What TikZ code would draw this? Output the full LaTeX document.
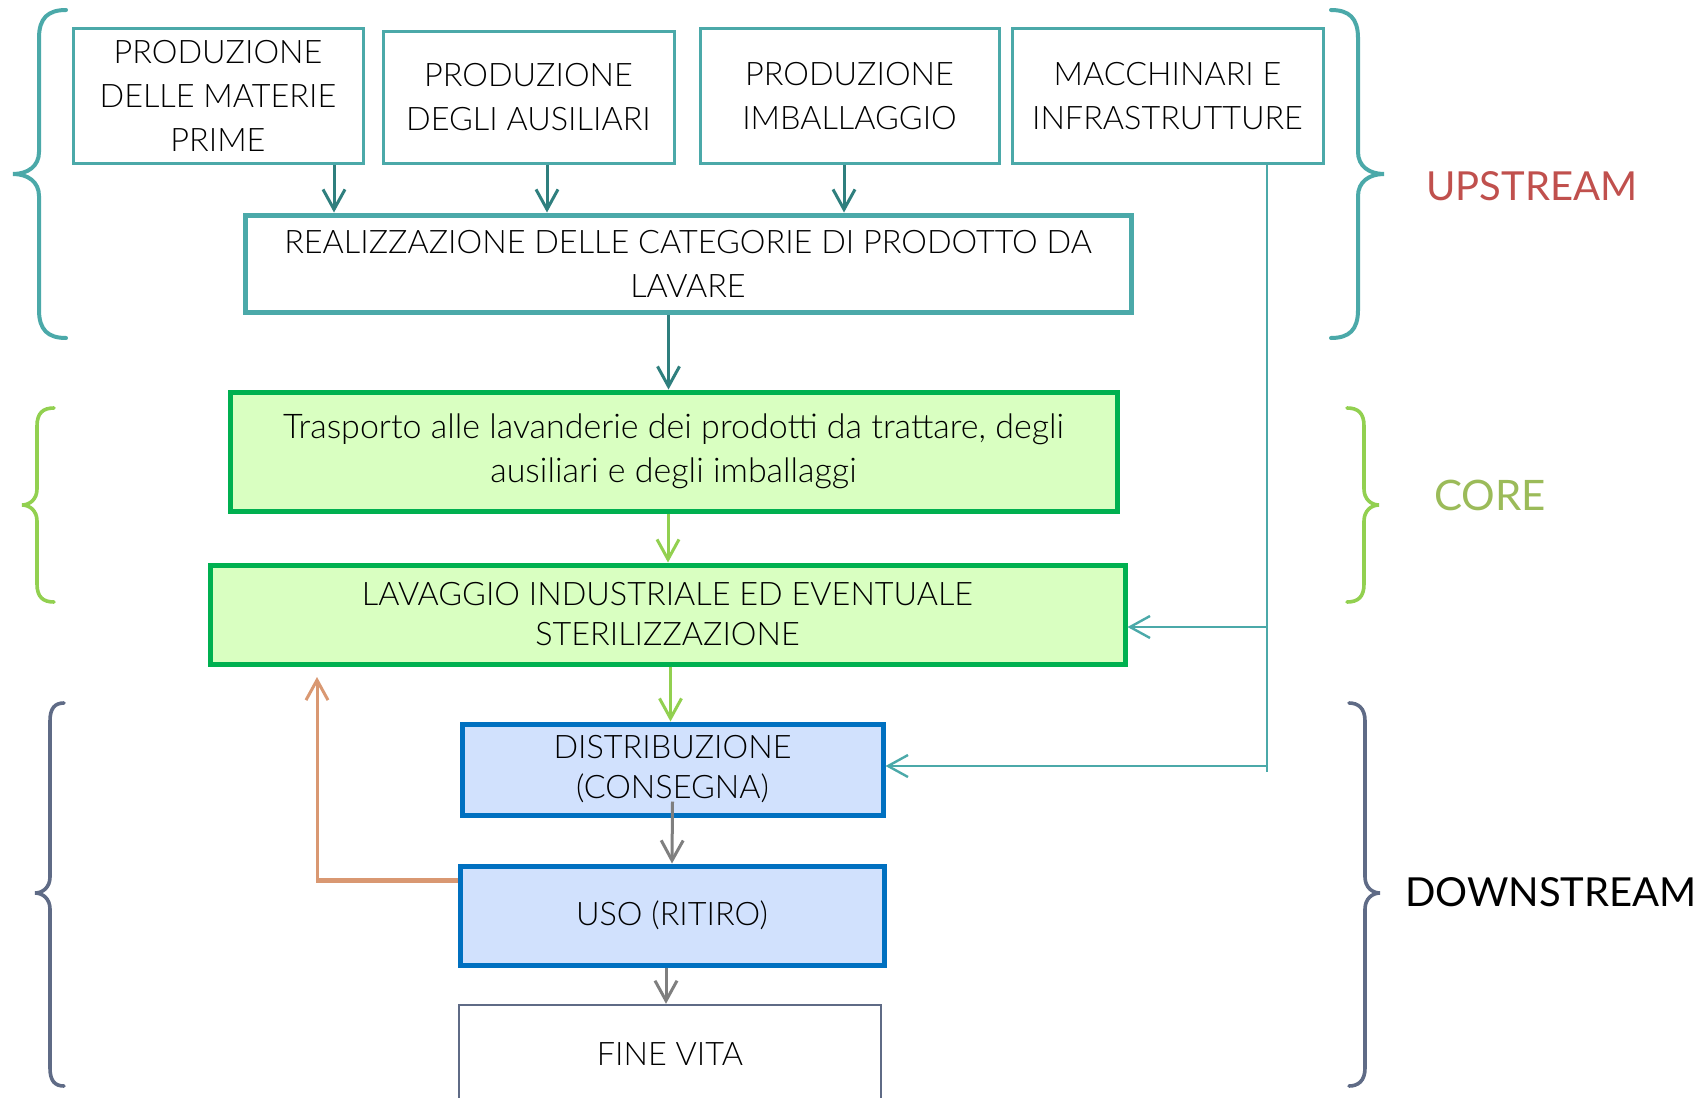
\documentclass[tikz,border=0pt]{standalone}
\usepackage{fontspec}
\IfFontExistsTF{Lato Light}{\setmainfont{Lato Light}}{\setmainfont{Lato}}
\newfontfamily\labfont{Lato}
\usetikzlibrary{arrows.meta,calc}
\definecolor{teal1}{HTML}{4BA9A9}
\definecolor{tealdark}{HTML}{2F7F7E}
\definecolor{greenb}{HTML}{00B050}
\definecolor{greenf}{HTML}{D9FFC1}
\definecolor{greenl}{HTML}{92D050}
\definecolor{blueb}{HTML}{0070C0}
\definecolor{bluef}{HTML}{D1E1FD}
\definecolor{grayar}{HTML}{7F7F7F}
\definecolor{orng}{HTML}{D99872}
\definecolor{slate}{HTML}{5F6B86}
\definecolor{redlab}{HTML}{C0504D}
\definecolor{corelab}{HTML}{9BBB59}
\begin{document}
\begin{tikzpicture}[x=0.5pt,y=-0.5pt,
  box/.style={draw, rectangle, inner sep=0pt, align=center, text=black,
    font=\fontsize{16.2}{22}\selectfont},
  tightbox/.style={box, font=\fontsize{16.2}{20}\selectfont},
  upbox/.style={box, draw=teal1, line width=1.5pt},
  realbox/.style={box, draw=teal1, line width=2.5pt},
  corebox/.style={draw=greenb, fill=greenf, line width=2.5pt},
  downbox/.style={draw=blueb, fill=bluef, line width=2.5pt},
  tip/.style={-{Straight Barb[length=10pt,width=11pt]}},
  darr/.style={tip, draw=tealdark, line width=1.5pt},
  garr/.style={tip, draw=greenl, line width=1.5pt},
  grarr/.style={tip, draw=grayar, line width=1.5pt},
  tarr/.style={tip, draw=teal1, line width=1.2pt},
  brace/.style={line width=1.8pt, line cap=round},
  lab/.style={font=\labfont\fontsize{20}{24}\selectfont, inner sep=0pt}
]
\useasboundingbox (0,0) rectangle (1701,1097);

% upstream boxes
\node[upbox, minimum width=145pt, minimum height=67pt] (b1) at (218,96) {PRODUZIONE\\DELLE MATERIE\\PRIME};
\node[upbox, minimum width=145.5pt, minimum height=65.5pt] (b2) at (528.5,97.5) {PRODUZIONE\\DEGLI AUSILIARI};
\node[upbox, minimum width=149.5pt, minimum height=67pt] (b3) at (849.5,96) {PRODUZIONE\\IMBALLAGGIO};
\node[upbox, minimum width=155.5pt, minimum height=67pt] (b4) at (1167.5,96) {MACCHINARI E\\INFRASTRUTTURE};
\node[realbox, minimum width=443pt, minimum height=48.5pt] (real) at (688,263.5) {REALIZZAZIONE DELLE CATEGORIE DI PRODOTTO DA\\LAVARE};

% core boxes
\node[box, corebox, minimum width=443.5pt, minimum height=59.5pt, font=\fontsize{17}{22}\selectfont] (trasp) at (673.5,451.5) {Trasporto alle lavanderie dei prodotti da trattare, degli\\ausiliari e degli imballaggi};
\node[tightbox, corebox, minimum width=457.5pt, minimum height=49.5pt] (lav) at (667.5,614.5) {LAVAGGIO INDUSTRIALE ED EVENTUALE\\STERILIZZAZIONE};

% downstream boxes
\node[tightbox, downbox, minimum width=210.5pt, minimum height=45.5pt] (dist) at (672.5,769.5) {DISTRIBUZIONE\\(CONSEGNA)};
\node[box, downbox, minimum width=212pt, minimum height=49.5pt] (uso) at (672,915.5) {USO (RITIRO)};
\node[box, draw=slate, line width=1.2pt, minimum width=211pt, minimum height=49.5pt] (fine) at (670,1054.5) {FINE VITA};

% arrow x positions
\coordinate (x1) at (334,0);
\coordinate (x2) at (547,0);
\coordinate (x3) at (844,0);
\coordinate (x4) at (668.5,0);
\coordinate (x5) at (668,0);
\coordinate (x6) at (670.5,0);
\coordinate (x8) at (666,0);

\draw[darr] (b1.south -| x1) -- (real.north -| x1);
\draw[darr] (b2.south -| x2) -- (real.north -| x2);
\draw[darr] (b3.south -| x3) -- (real.north -| x3);
\draw[darr] (real.south -| x4) -- (trasp.north -| x4);
\draw[garr] (trasp.south -| x5) -- (lav.north -| x5);
\draw[garr] (lav.south -| x6) -- (dist.north -| x6);
\draw[grarr] ($(dist.south)+(0,-16)$) -- (uso.north);
\draw[grarr] (uso.south -| x8) -- (fine.north -| x8);

% machinery connector
\coordinate (mx) at (1267,0);
\coordinate (j1) at (1267,627);
\coordinate (j2) at (1267,766);
\coordinate (vend) at (1267,772);
\draw[teal1, line width=1.2pt] (b4.south -| mx) -- (vend);
\draw[tarr] (j1) -- (j1 -| lav.east);
\draw[tarr] (j2) -- (j2 -| dist.east);

% return arrow
\coordinate (ocorner) at (317,880);
\coordinate (otip) at (317,677);
\draw[orng, line width=2.5pt] (uso.west |- ocorner) -- ($(ocorner)+(-1,0)$);
\draw[tip, draw=orng, line width=1.5pt] (ocorner) -- (otip);

% braces
\draw[brace, teal1, line width=2pt] (66,10) .. controls (48,10) and (39,18) .. (39,38) -- (39,152) .. controls (39,166) and (28,174) .. (13,174) .. controls (28,174) and (39,182) .. (39,196) -- (39,310) .. controls (39,330) and (48,338) .. (66,338);
\draw[brace, teal1, line width=2pt] (1331,10) .. controls (1349,10) and (1358,18) .. (1358,38) -- (1358,152) .. controls (1358,166) and (1369,174) .. (1384,174) .. controls (1369,174) and (1358,182) .. (1358,196) -- (1358,310) .. controls (1358,330) and (1349,338) .. (1331,338);

\draw[brace, greenl] (54,408) .. controls (43,408) and (37,413) .. (37,426) -- (37,489) .. controls (37,499) and (30,505) .. (22,505) .. controls (30,505) and (37,511) .. (37,521) -- (37,584) .. controls (37,597) and (43,602) .. (54,602);
\draw[brace, greenl] (1347,408) .. controls (1358,408) and (1364,413) .. (1364,426) -- (1364,489) .. controls (1364,499) and (1371,505) .. (1379,505) .. controls (1371,505) and (1364,511) .. (1364,521) -- (1364,584) .. controls (1364,597) and (1358,602) .. (1347,602);

\draw[brace, slate] (64,703) .. controls (55,703) and (50,708) .. (50,721) -- (50,877) .. controls (50,887) and (43,893) .. (35,893) .. controls (43,893) and (50,899) .. (50,909) -- (50,1068) .. controls (50,1081) and (55,1086) .. (64,1086);
\draw[brace, slate] (1349,703) .. controls (1358,703) and (1365,708) .. (1365,721) -- (1365,877) .. controls (1365,887) and (1372,893) .. (1380,893) .. controls (1372,893) and (1365,899) .. (1365,909) -- (1365,1068) .. controls (1365,1081) and (1358,1086) .. (1349,1086);

% labels
\node[lab, text=redlab] (lup) at (1532,186) {UPSTREAM};
\node[lab, text=corelab, font=\labfont\fontsize{21}{24}\selectfont] (lcore) at (1490,495) {CORE};
\node[lab, text=black] (ldown) at (1551,892) {DOWNSTREAM};
\end{tikzpicture}
\end{document}
